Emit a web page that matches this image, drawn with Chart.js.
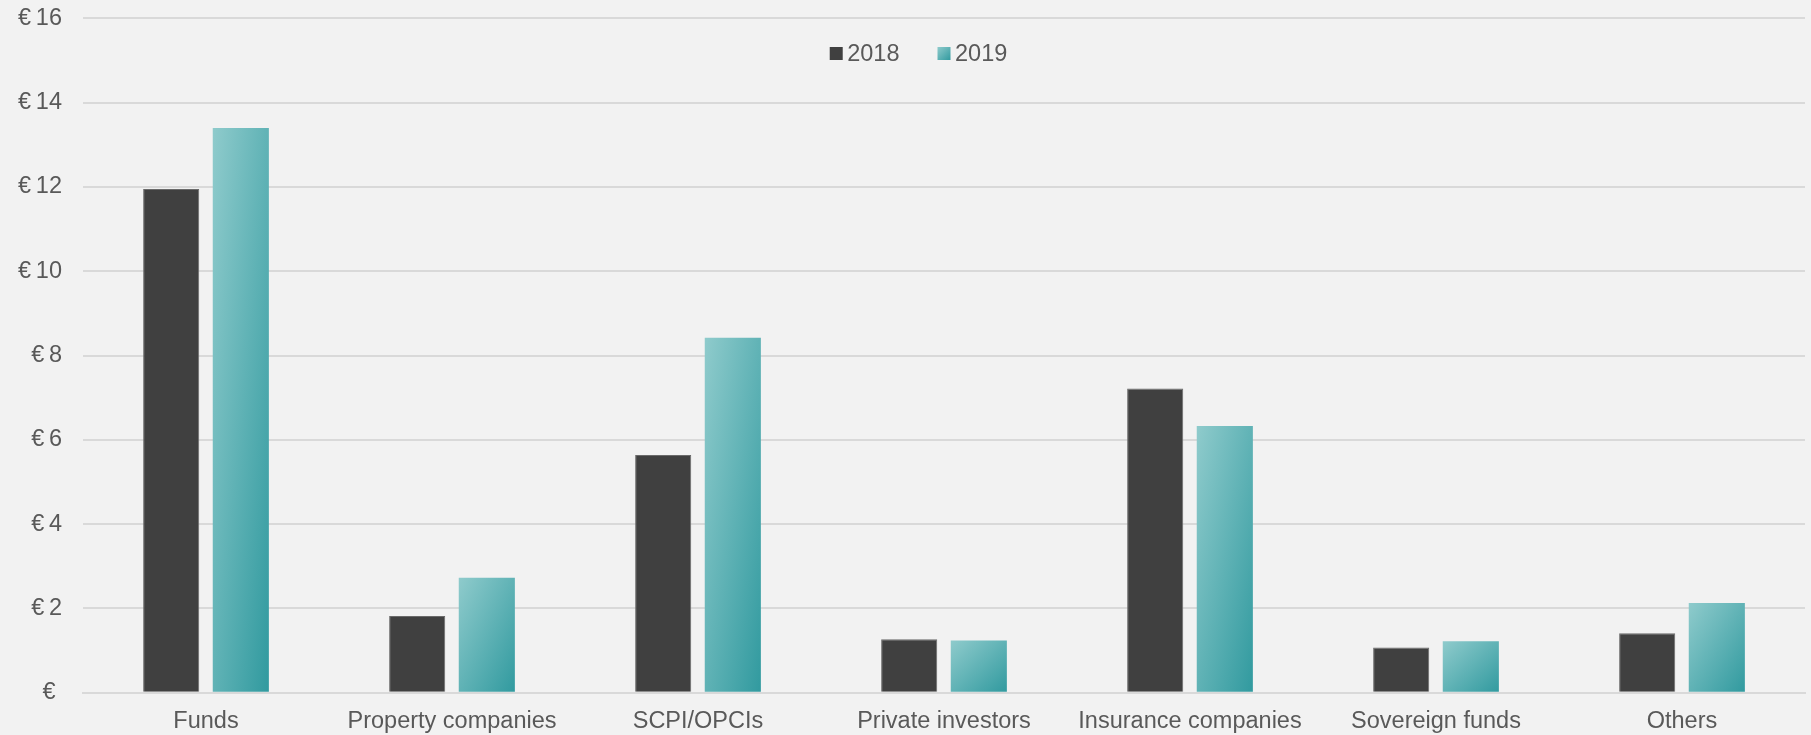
<!DOCTYPE html>
<html>
<head>
<meta charset="utf-8">
<script src="https://cdn.jsdelivr.net/npm/chart.js@4/dist/chart.umd.min.js"></script>
<style>
  html, body { margin: 0; padding: 0; background: #f2f2f2; }
  #wrap { width: 1811px; height: 735px; position: relative; }
</style>
</head>
<body>
<div id="wrap"><canvas id="c" width="1811" height="735"></canvas></div>
<script>
const categories = ['Funds', 'Property companies', 'SCPI/OPCIs', 'Private investors', 'Insurance companies', 'Sovereign funds', 'Others'];
const values2018 = [11.95, 1.82, 5.64, 1.27, 7.22, 1.07, 1.41];
const values2019 = [13.40, 2.73, 8.42, 1.24, 6.33, 1.22, 2.13];
const seriesLabels = ['2018', '2019'];
const yTicks = [0, 2, 4, 6, 8, 10, 12, 14, 16];

const FONT = '"Liberation Sans", Arial, sans-serif';
const TEXT = '#595959';
const CAT_PCT = 0.566, BAR_PCT = 0.806;
const TEAL_LIGHT = '#8fcbcc', TEAL_DARK = '#319a9f';

function tealGradient(ctx, x0, y0, w, h) {
  // Excel-style 45deg gradient scaled with shape: t = u/2 + v/2
  const gx = 1 / (2 * w), gy = 1 / (2 * h);
  const n2 = gx * gx + gy * gy;
  const g = ctx.createLinearGradient(x0, y0, x0 + gx / n2, y0 + gy / n2);
  g.addColorStop(0, TEAL_LIGHT);
  g.addColorStop(1, TEAL_DARK);
  return g;
}

function barFill(c) {
  const chart = c.chart;
  const xs = chart.scales && chart.scales.x, ys = chart.scales && chart.scales.y;
  if (c.type !== 'data' || !xs || !ys || !chart.chartArea) return '#6ab5b7';
  const cw = xs.width / categories.length;
  const center = xs.getPixelForValue(c.dataIndex);
  const slot = cw * CAT_PCT / 2;
  const bw = slot * BAR_PCT;
  const bx = center - cw * CAT_PCT / 2 + slot * (c.datasetIndex + 0.5) - bw / 2;
  const top = ys.getPixelForValue(c.raw);
  const base = ys.getPixelForValue(0);
  return tealGradient(chart.ctx, bx, top, bw, Math.max(1, base - top));
}

const legendPlugin = {
  id: 'customLegend',
  afterDraw(chart) {
    const ctx = chart.ctx;
    ctx.save();
    ctx.font = '23.5px ' + FONT;
    ctx.textBaseline = 'middle';
    const box = 13, gapText = 4.5, gapItem = 38;
    const items = chart.data.datasets.map(d => ({ label: d.label, w: box + gapText + ctx.measureText(d.label).width }));
    const total = items.reduce((s, it) => s + it.w, 0) + gapItem * (items.length - 1);
    let x = chart.width / 2 + 13 - total / 2;
    const cy = 53.5;
    items.forEach((it, i) => {
      if (i === 0) {
        ctx.fillStyle = '#404040';
      } else {
        ctx.fillStyle = tealGradient(ctx, x, cy - box / 2, box, box);
      }
      ctx.fillRect(x, cy - box / 2, box, box);
      ctx.fillStyle = TEXT;
      ctx.fillText(it.label, x + box + gapText, cy + 1);
      x += it.w + gapItem;
    });
    ctx.restore();
  }
};

const bgPlugin = {
  id: 'bg',
  beforeDraw(chart) {
    const ctx = chart.ctx;
    ctx.save();
    ctx.fillStyle = '#f2f2f2';
    ctx.fillRect(0, 0, chart.width, chart.height);
    ctx.restore();
  }
};

new Chart(document.getElementById('c'), {
  type: 'bar',
  data: {
    labels: categories,
    datasets: [
      { label: seriesLabels[0], data: values2018, backgroundColor: '#404040', borderColor: '#6a6a6a', borderWidth: 1, borderSkipped: 'bottom' },
      { label: seriesLabels[1], data: values2019, backgroundColor: barFill, borderWidth: 0 }
    ]
  },
  options: {
    responsive: false,
    animation: false,
    events: [],
    categoryPercentage: CAT_PCT,
    barPercentage: BAR_PCT,
    layout: { padding: { top: 18.3, right: 6, left: 0, bottom: 0 } },
    plugins: { legend: { display: false }, tooltip: { enabled: false } },
    scales: {
      x: {
        grid: { display: false },
        border: { display: true, color: '#d9d9d9', width: 2 },
        ticks: { color: TEXT, font: { family: FONT, size: 23.5 }, padding: 7, autoSkip: false, maxRotation: 0 },
        afterFit(scale) { scale.height = 42.3; }
      },
      y: {
        min: 0, max: 16,
        afterBuildTicks(scale) { scale.ticks = yTicks.map(v => ({ value: v })); },
        grid: { color: '#d9d9d9', lineWidth: 2, drawTicks: false },
        border: { display: false },
        ticks: {
          color: TEXT, font: { family: FONT, size: 23.5 }, padding: 21,
          callback: v => v === 0 ? '€ ' : '€\u2009' + v
        },
        afterFit(scale) { scale.width = 83; scale.paddingTop = 0; scale.paddingBottom = 0; }
      }
    }
  },
  plugins: [bgPlugin, legendPlugin]
});
</script>
</body>
</html>
